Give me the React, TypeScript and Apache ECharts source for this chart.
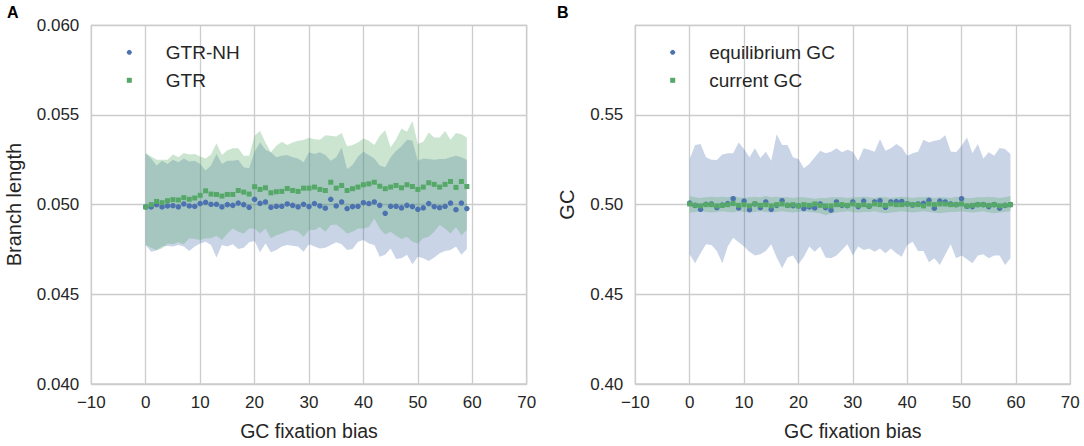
import React, { useEffect, useRef } from "react";
import * as echarts from "echarts";

const BIAS = [
  0, 1, 2, 3, 4, 5, 6, 7, 8, 9, 10, 11, 12, 13, 14, 15, 16, 17, 18, 19,
  20, 21, 22, 23, 24, 25, 26, 27, 28, 29, 30, 31, 32, 33, 34, 35, 36, 37, 38, 39,
  40, 41, 42, 43, 44, 45, 46, 47, 48, 49, 50, 51, 52, 53, 54, 55, 56, 57, 58, 59,
];

const X_TICKS_MIN = -10;
const X_TICKS_MAX = 70;

// Panel A: branch length
const A_NH_MEAN = [
  0.04987, 0.04987, 0.05, 0.04987, 0.04993, 0.04994, 0.04987, 0.05004, 0.04993, 0.04991,
  0.05006, 0.05013, 0.05002, 0.05002, 0.04987, 0.05, 0.04996, 0.05009, 0.05, 0.04985,
  0.0503, 0.05007, 0.05015, 0.04985, 0.04991, 0.04991, 0.05004, 0.04996, 0.04987, 0.05002,
  0.04989, 0.05006, 0.04993, 0.0498, 0.0503, 0.04993, 0.05015, 0.04978, 0.04989, 0.04991,
  0.05011, 0.05006, 0.05015, 0.04996, 0.04952, 0.04991, 0.04991, 0.04982, 0.04996, 0.04989,
  0.04974, 0.04982, 0.05006, 0.04989, 0.04983, 0.04991, 0.05009, 0.04972, 0.05009, 0.04978,
];
const A_NH_LOW = [
  0.04775, 0.04738, 0.04744, 0.04766, 0.04769, 0.04766, 0.04775, 0.04766, 0.04742, 0.04766,
  0.04784, 0.04793, 0.04775, 0.04705, 0.04775, 0.04766, 0.04779, 0.04753, 0.0476, 0.0479,
  0.04797, 0.04734, 0.04784, 0.04734, 0.04747, 0.04766, 0.04775, 0.04771, 0.04766, 0.04738,
  0.04779, 0.04766, 0.04756, 0.0476, 0.04775, 0.0479, 0.04779, 0.04747, 0.04753, 0.04793,
  0.04803, 0.04784, 0.04775, 0.0471, 0.0472, 0.04756, 0.04697, 0.04701, 0.0472, 0.04668,
  0.0471, 0.04701, 0.04686, 0.04705, 0.04729, 0.04742, 0.04747, 0.04766, 0.0472, 0.04753,
];
const A_NH_HIGH = [
  0.05286, 0.05258, 0.05218, 0.05245, 0.05227, 0.05251, 0.05236, 0.05258, 0.0524, 0.05245,
  0.05227, 0.0519, 0.05218, 0.05282, 0.05227, 0.05245, 0.05245, 0.05251, 0.05208, 0.05203,
  0.05295, 0.05347, 0.05306, 0.05292, 0.05264, 0.05273, 0.05277, 0.05264, 0.05258, 0.05236,
  0.05292, 0.05282, 0.05292, 0.05277, 0.05245, 0.05264, 0.05319, 0.05199, 0.05221, 0.05269,
  0.05295, 0.05277, 0.05258, 0.05218, 0.05208, 0.05264, 0.05301, 0.05325, 0.05362, 0.05356,
  0.05245, 0.05258, 0.05255, 0.05251, 0.05255, 0.05255, 0.05264, 0.05273, 0.05264, 0.05251,
];
const A_GTR_MEAN = [
  0.04987, 0.05, 0.05018, 0.05011, 0.05022, 0.05028, 0.05026, 0.05039, 0.0503, 0.05037,
  0.05052, 0.05077, 0.05059, 0.05057, 0.05048, 0.05057, 0.05057, 0.05079, 0.0507, 0.05059,
  0.051, 0.05085, 0.05094, 0.05066, 0.05072, 0.05074, 0.0509, 0.05079, 0.05074, 0.05092,
  0.05092, 0.05098, 0.05085, 0.05079, 0.05125, 0.05092, 0.05107, 0.05079, 0.05089, 0.05098,
  0.05111, 0.05116, 0.05125, 0.05103, 0.05089, 0.05098, 0.05107, 0.05094, 0.05111, 0.05101,
  0.05085, 0.05098, 0.05122, 0.05113, 0.05098, 0.05113, 0.05129, 0.05096, 0.05129, 0.05101,
];
const A_GTR_LOW = [
  0.04775, 0.0476, 0.04747, 0.04756, 0.04784, 0.04779, 0.0479, 0.04779, 0.04812, 0.04808,
  0.04803, 0.04812, 0.04812, 0.04827, 0.04803, 0.04839, 0.04867, 0.04849, 0.04839, 0.04867,
  0.04867, 0.04839, 0.04867, 0.04812, 0.0483, 0.04839, 0.04852, 0.04858, 0.04849, 0.04821,
  0.04858, 0.04858, 0.04876, 0.04849, 0.04886, 0.04889, 0.04867, 0.04839, 0.04849, 0.04867,
  0.04867, 0.04876, 0.04923, 0.04867, 0.04834, 0.04849, 0.04827, 0.04808, 0.04821, 0.04793,
  0.04784, 0.04812, 0.04821, 0.04849, 0.04886, 0.04867, 0.04839, 0.04876, 0.0483, 0.04858,
];
const A_GTR_HIGH = [
  0.05286, 0.05269, 0.05251, 0.05251, 0.05251, 0.0528, 0.05264, 0.05288, 0.0528, 0.05282,
  0.05269, 0.05258, 0.05279, 0.05343, 0.05277, 0.05304, 0.05314, 0.05314, 0.05273, 0.05273,
  0.05384, 0.05411, 0.05347, 0.05292, 0.05328, 0.05351, 0.05332, 0.05347, 0.05356, 0.0536,
  0.05373, 0.05365, 0.05362, 0.05387, 0.05384, 0.0538, 0.05399, 0.05325, 0.05332, 0.05347,
  0.05369, 0.05356, 0.05332, 0.05384, 0.05415, 0.05319, 0.05365, 0.05424, 0.05406, 0.05467,
  0.05338, 0.05351, 0.05402, 0.05375, 0.05375, 0.05411, 0.05362, 0.05399, 0.05393, 0.05375,
];

// Panel B: GC content
const B_EQ_MEAN = [
  0.5009, 0.4996, 0.4974, 0.5002, 0.5004, 0.4983, 0.4998, 0.5006, 0.5033, 0.4982,
  0.502, 0.4972, 0.5004, 0.4983, 0.5015, 0.4974, 0.4996, 0.5022, 0.4996, 0.4994,
  0.4993, 0.4978, 0.4987, 0.4982, 0.5004, 0.4983, 0.4969, 0.5015, 0.4996, 0.4994,
  0.5015, 0.4989, 0.502, 0.4991, 0.5015, 0.5022, 0.4985, 0.5015, 0.5017, 0.5018,
  0.5004, 0.4998, 0.5004, 0.5007, 0.5024, 0.498, 0.502, 0.5015, 0.5004, 0.5,
  0.5033, 0.4991, 0.4989, 0.5, 0.5, 0.4989, 0.5, 0.498, 0.4996, 0.5,
];
const B_EQ_LOW = [
  0.4723, 0.4673, 0.4729, 0.4779, 0.4775, 0.4742, 0.4673, 0.4766, 0.4816, 0.479,
  0.4766, 0.4738, 0.4716, 0.4723, 0.4742, 0.4779, 0.4705, 0.4646, 0.4705, 0.4716,
  0.4668, 0.471, 0.4766, 0.4738, 0.4766, 0.4705, 0.4701, 0.4716, 0.4747, 0.4779,
  0.4716, 0.4766, 0.4747, 0.4756, 0.4738, 0.4756, 0.4729, 0.4756, 0.4729, 0.471,
  0.4775, 0.4793, 0.4742, 0.4742, 0.4679, 0.4701, 0.4664, 0.472, 0.4779, 0.4701,
  0.4716, 0.4696, 0.4673, 0.4716, 0.4723, 0.4701, 0.4716, 0.4716, 0.4664, 0.4701,
];
const B_EQ_HIGH = [
  0.5255, 0.5332, 0.5338, 0.5264, 0.5251, 0.5249, 0.528, 0.5286, 0.5286, 0.5347,
  0.531, 0.5264, 0.5314, 0.526, 0.5295, 0.5245, 0.5393, 0.5332, 0.5332, 0.5264,
  0.5255, 0.5203, 0.5227, 0.5264, 0.5301, 0.5286, 0.5295, 0.5314, 0.5292, 0.5306,
  0.5295, 0.5245, 0.5314, 0.5306, 0.5295, 0.5365, 0.5301, 0.5314, 0.5338, 0.5319,
  0.5273, 0.5286, 0.5295, 0.5362, 0.5347, 0.5356, 0.5362, 0.5387, 0.5297, 0.5292,
  0.5328, 0.5375, 0.5286, 0.5338, 0.5258, 0.5292, 0.5273, 0.5316, 0.531, 0.5282,
];
const B_CUR_MEAN = [
  0.5004, 0.4996, 0.4993, 0.5, 0.5, 0.4993, 0.4996, 0.5, 0.5006, 0.4996,
  0.5, 0.4993, 0.5004, 0.4996, 0.5, 0.4993, 0.5, 0.5004, 0.4996, 0.5,
  0.4993, 0.5, 0.4996, 0.5004, 0.4996, 0.4993, 0.4993, 0.5, 0.5, 0.4996,
  0.5004, 0.4996, 0.5, 0.4993, 0.5004, 0.5, 0.4996, 0.5004, 0.5, 0.5,
  0.5004, 0.5, 0.5, 0.4993, 0.5004, 0.5, 0.5004, 0.5004, 0.5, 0.5,
  0.5004, 0.4993, 0.4996, 0.5, 0.5, 0.4996, 0.5, 0.4993, 0.4996, 0.5,
];
const B_CUR_LOW = [
  0.4956, 0.4959, 0.4963, 0.4959, 0.4956, 0.4959, 0.4963, 0.4959, 0.4956, 0.4963,
  0.4959, 0.4956, 0.4959, 0.4963, 0.4959, 0.4956, 0.4959, 0.4963, 0.4959, 0.4956,
  0.4959, 0.4963, 0.4959, 0.4956, 0.4952, 0.4941, 0.4952, 0.4956, 0.4959, 0.4963,
  0.4959, 0.4956, 0.4959, 0.4959, 0.4963, 0.4956, 0.4952, 0.4956, 0.4959, 0.4963,
  0.4959, 0.4956, 0.4959, 0.4963, 0.4959, 0.4956, 0.4952, 0.4956, 0.4959, 0.4959,
  0.4963, 0.4959, 0.4956, 0.4959, 0.4963, 0.4956, 0.4952, 0.4956, 0.4959, 0.4963,
];
const B_CUR_HIGH = [
  0.5048, 0.5041, 0.5037, 0.5041, 0.5044, 0.5041, 0.5044, 0.5041, 0.5048, 0.5041,
  0.5037, 0.5041, 0.5044, 0.5041, 0.5048, 0.5041, 0.5044, 0.5041, 0.5041, 0.5037,
  0.5041, 0.5041, 0.5037, 0.5033, 0.5037, 0.5037, 0.5041, 0.5041, 0.5041, 0.5037,
  0.5041, 0.5041, 0.5044, 0.5041, 0.5037, 0.5044, 0.5041, 0.5037, 0.5041, 0.5044,
  0.5041, 0.5037, 0.5041, 0.5041, 0.5044, 0.5037, 0.5041, 0.5041, 0.5037, 0.5044,
  0.5041, 0.5037, 0.5037, 0.5041, 0.5041, 0.5044, 0.5041, 0.5037, 0.5041, 0.5048,
];

const BLUE = "#4C72B0";
const GREEN = "#55A868";
const BLUE_FILL = "rgba(76,114,176,0.3)";
const GREEN_FILL = "rgba(85,168,104,0.3)";
const TEXT = "#262626";
const GRIDC = "#cccccc";
const FONT = "Liberation Sans, Arial, sans-serif";

const pairs = (ys: number[]) => BIAS.map((x, i) => [x, ys[i]]);

function band(grid: number, lo: number[], hi: number[], fill: string) {
  const data = BIAS.map((x, i) => [x, lo[i], hi[i]]);
  return {
    type: "custom",
    xAxisIndex: grid,
    yAxisIndex: grid,
    silent: true,
    z: 1,
    data,
    encode: { x: 0, y: [1, 2] },
    renderItem: (params: any, api: any) => {
      if (params.dataIndex !== 0) return null;
      const top = data.map((d) => api.coord([d[0], d[2]]));
      const bot = data.map((d) => api.coord([d[0], d[1]])).reverse();
      return {
        type: "polygon",
        shape: { points: top.concat(bot) },
        style: { fill, stroke: "none" },
      };
    },
  };
}

function points(name: string, grid: number, ys: number[], color: string, symbol: string, size: number) {
  return {
    type: "scatter",
    name,
    xAxisIndex: grid,
    yAxisIndex: grid,
    data: pairs(ys),
    symbol,
    symbolSize: size,
    itemStyle: { color, opacity: 1 },
    z: 3,
  };
}

const xFmt = (v: number) => (v < 0 ? "\u2212" + Math.abs(v) : String(v));

function xAxis(grid: number) {
  return {
    type: "value",
    gridIndex: grid,
    min: X_TICKS_MIN,
    max: X_TICKS_MAX,
    interval: 10,
    axisLine: { show: false },
    axisTick: { show: false },
    axisLabel: { fontSize: 17, color: TEXT, fontFamily: FONT, margin: 10, formatter: xFmt },
    splitLine: { show: true, lineStyle: { color: GRIDC, width: 1.3 } },
    name: "GC fixation bias",
    nameLocation: "middle",
    nameGap: 37,
    nameTextStyle: { fontSize: 19.5, color: TEXT, fontFamily: FONT },
  };
}

export default function App() {
  const ref = useRef<HTMLDivElement>(null);
  useEffect(() => {
    document.body.style.margin = "0";
    if (!ref.current) return;
    const chart = echarts.init(ref.current, undefined, { renderer: "svg" });
    const legendText = {
      fontSize: 19,
      color: TEXT,
      fontFamily: FONT,
      padding: [0, 0, 0, 29],
      lineHeight: 20,
    };
    chart.setOption({
      animation: false,
      backgroundColor: "#ffffff",
      textStyle: { fontFamily: FONT },
      grid: [
        { left: 91.3, top: 25.3, width: 435.4, height: 361.4, show: true, borderColor: GRIDC, borderWidth: 1.3, backgroundColor: "transparent" },
        { left: 635.3, top: 25.3, width: 435, height: 361.4, show: true, borderColor: GRIDC, borderWidth: 1.3, backgroundColor: "transparent" },
      ],
      xAxis: [xAxis(0), xAxis(1)],
      yAxis: [
        {
          type: "value",
          gridIndex: 0,
          min: 0.04,
          max: 0.06,
          interval: 0.005,
          axisLine: { show: false },
          axisTick: { show: false },
          axisLabel: { fontSize: 17, color: TEXT, fontFamily: FONT, margin: 12, formatter: (v: number) => v.toFixed(3) },
          splitLine: { show: true, lineStyle: { color: GRIDC, width: 1.3 } },
          name: "Branch length",
          nameLocation: "middle",
          nameGap: 67,
          nameTextStyle: { fontSize: 20, color: TEXT, fontFamily: FONT },
        },
        {
          type: "value",
          gridIndex: 1,
          min: 0.4,
          max: 0.6,
          interval: 0.05,
          axisLine: { show: false },
          axisTick: { show: false },
          axisLabel: {
            fontSize: 17,
            color: TEXT,
            fontFamily: FONT,
            margin: 12,
            formatter: (v: number) => (Math.abs(v - 0.6) < 1e-9 ? "" : v.toFixed(2)),
          },
          splitLine: { show: true, lineStyle: { color: GRIDC, width: 1.3 } },
          name: "GC",
          nameLocation: "middle",
          nameGap: 58,
          nameTextStyle: { fontSize: 20, color: TEXT, fontFamily: FONT },
        },
      ],
      legend: [
        {
          data: ["GTR-NH", "GTR"],
          orient: "vertical",
          left: 126.8,
          top: 42.3,
          padding: 0,
          itemWidth: 5,
          itemHeight: 5,
          itemGap: 8,
          selectedMode: false,
          textStyle: legendText,
        },
        {
          data: ["equilibrium GC", "current GC"],
          orient: "vertical",
          left: 670.2,
          top: 42.3,
          padding: 0,
          itemWidth: 5,
          itemHeight: 5,
          itemGap: 8,
          selectedMode: false,
          textStyle: legendText,
        },
      ],
      graphic: [
        { type: "text", left: 7, top: 4, style: { text: "A", font: "bold 16px " + FONT, fill: "#000000" } },
        { type: "text", left: 557, top: 4, style: { text: "B", font: "bold 16px " + FONT, fill: "#000000" } },
      ],
      series: [
        band(0, A_NH_LOW, A_NH_HIGH, BLUE_FILL),
        band(0, A_GTR_LOW, A_GTR_HIGH, GREEN_FILL),
        points("GTR-NH", 0, A_NH_MEAN, BLUE, "circle", 5.5),
        points("GTR", 0, A_GTR_MEAN, GREEN, "rect", 5),
        band(1, B_EQ_LOW, B_EQ_HIGH, BLUE_FILL),
        band(1, B_CUR_LOW, B_CUR_HIGH, GREEN_FILL),
        points("equilibrium GC", 1, B_EQ_MEAN, BLUE, "circle", 5.5),
        points("current GC", 1, B_CUR_MEAN, GREEN, "rect", 5),
      ],
    });
    return () => chart.dispose();
  }, []);
  return <div ref={ref} style={{ width: 1084, height: 446 }} />;
}
